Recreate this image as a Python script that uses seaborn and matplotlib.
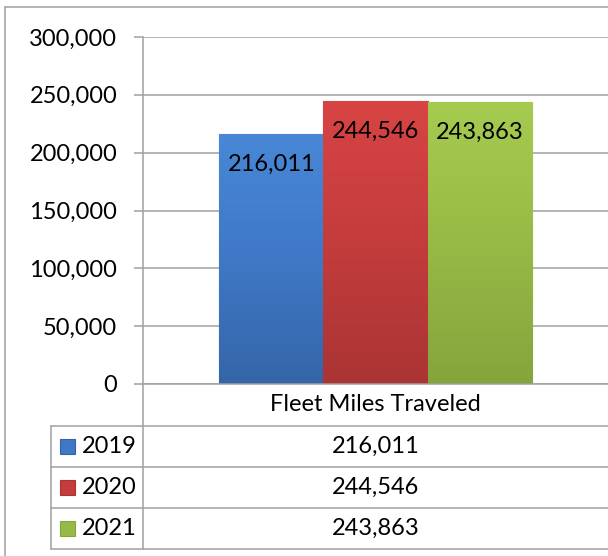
import numpy as np
import pandas as pd
import matplotlib
matplotlib.use("Agg")
import matplotlib.pyplot as plt
import seaborn as sns
from matplotlib.lines import Line2D
from matplotlib.patches import Rectangle
from matplotlib.colors import LinearSegmentedColormap
from matplotlib.ticker import FuncFormatter

# ---- data ----
category = ["Fleet Miles Traveled"]
years = ["2019", "2020", "2021"]
values = [216011, 244546, 243863]
yticks = [0, 50000, 100000, 150000, 200000, 250000, 300000]

colors_top = ["#4888D6", "#D84444", "#A6CB50"]
colors_mid = ["#3F78C6", "#C43C3C", "#97BA46"]
colors_bot = ["#3565A8", "#AA3434", "#86A43C"]

df = pd.DataFrame({"category": category * len(years), "year": years, "miles": values})

sns.set_theme(style="white")
plt.rcParams["font.family"] = ["Lato", "DejaVu Sans"]

W, H = 608, 556
fig = plt.figure(figsize=(W / 100, H / 100), dpi=100)

def fx(px):
    return px / W

def fy(py):
    return 1 - py / H

ax_left, ax_right, ax_top, ax_bot = 143, 608, 37, 384
ax = fig.add_axes([fx(ax_left), fy(ax_bot), fx(ax_right - ax_left), (ax_bot - ax_top) / H])

sns.barplot(data=df, x="category", y="miles", hue="year", palette=colors_mid,
            ax=ax, legend=False, gap=0, width=0.8, saturation=1)

ax.set_ylim(0, 300000)
ax.set_xlim(-0.595, 0.595)
ax.set_yticks(yticks)
ax.yaxis.set_major_formatter(FuncFormatter(lambda v, p: f"{v:,.0f}"))
ax.set_xlabel("")
ax.set_ylabel("")

grey = "#A0A0A0"
ax.grid(axis="y", color=grey, linewidth=1.1)
ax.set_axisbelow(True)
for s in ["top", "right"]:
    ax.spines[s].set_visible(False)
for s in ["left", "bottom"]:
    ax.spines[s].set_color(grey)
    ax.spines[s].set_linewidth(1.1)
ax.tick_params(axis="y", which="both", left=True, length=6.5, width=1.1, color=grey,
               pad=12, labelsize=17, labelcolor="black")
ax.tick_params(axis="x", length=0, pad=7, labelsize=17, labelcolor="black")

# gradient fill on bars + labels
bars = list(ax.patches)
for i, p in enumerate(bars):
    x0, y0 = p.get_x(), p.get_y()
    w, h = p.get_width(), p.get_height()
    cmap = LinearSegmentedColormap.from_list("g", [colors_bot[i], colors_mid[i], colors_top[i]])
    grad = np.linspace(0, 1, 256).reshape(-1, 1)
    im = ax.imshow(grad, extent=[x0, x0 + w, y0, y0 + h], origin="lower", aspect="auto",
                   cmap=cmap, zorder=p.get_zorder() + 0.1)
    im.set_clip_path(p)
    p.set_edgecolor(colors_bot[i])
    p.set_linewidth(0.8)
    ax.annotate(f"{values[i]:,}", xy=(x0 + w / 2, y0 + h), xytext=(0, -14),
                textcoords="offset points", ha="center", va="top", fontsize=17,
                color="black", zorder=5)
ax.set_xlim(-0.595, 0.595)
ax.set_ylim(0, 300000)

# ---- data table ----
def hline(y, x0, x1):
    fig.add_artist(Line2D([fx(x0), fx(x1)], [fy(y), fy(y)], color=grey, linewidth=1.1))

def vline(x, y0, y1):
    fig.add_artist(Line2D([fx(x), fx(x)], [fy(y0), fy(y1)], color=grey, linewidth=1.1))

rows_y = [426, 467, 508, 549]
for y in rows_y:
    hline(y, 51, 608)
vline(51, 426, 549)
vline(143, 384, 549)

# outer chart border
hline(7, 5, 608)
vline(5, 7, 556)

center_x = 375.5
for i, yr in enumerate(years):
    yc = (rows_y[i] + rows_y[i + 1]) / 2
    fig.add_artist(Rectangle((fx(60), fy(yc + 7.5)), fx(15), 15 / H,
                             facecolor=colors_mid[i], edgecolor=colors_bot[i], linewidth=0.8))
    fig.text(fx(82), fy(yc), yr, ha="left", va="center", fontsize=17, color="black")
    fig.text(fx(center_x), fy(yc), f"{values[i]:,}", ha="center", va="center",
             fontsize=17, color="black")

fig.savefig("out.png", dpi=100)
